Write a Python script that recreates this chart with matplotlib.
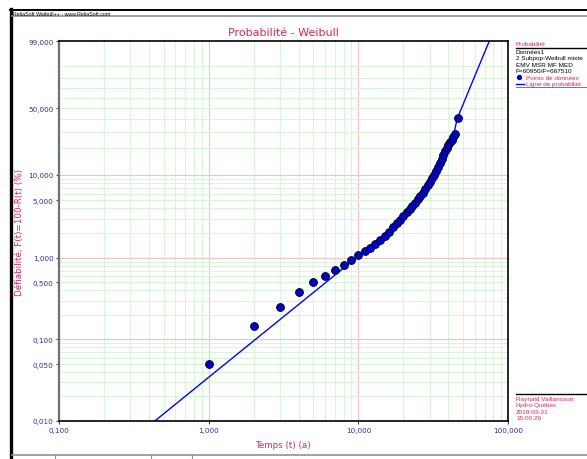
import numpy as np
import matplotlib
matplotlib.use("Agg")
import matplotlib.pyplot as plt
from matplotlib.lines import Line2D

W, H = 587, 460

# ── données ──────────────────────────────────────────────────────────────────
temps = [1, 2, 3, 4, 5, 6, 7, 8, 9, 10, 11, 12, 13, 14, 15, 16, 17, 18, 19, 20,
         21, 22, 23, 24, 25, 26, 27, 28, 29, 30, 31, 32, 33, 34, 35, 36, 37, 38,
         39, 40, 41, 42, 43, 44, 46]
defiab = [0.050, 0.147, 0.253, 0.383, 0.504, 0.60, 0.71, 0.82, 0.93, 1.08,
          1.20, 1.33, 1.48, 1.66, 1.85, 2.09, 2.36, 2.64, 2.91, 3.23,
          3.56, 3.92, 4.29, 4.65, 5.16, 5.66, 6.15, 6.85, 7.52, 8.22,
          9.04, 9.93, 10.95, 12.2, 13.7, 15.2, 16.8, 18.5, 20.2, 21.8,
          23.1, 24.3, 26.5, 28.5, 40.7]

# ligne de probabilité (mélange 2 sous-populations), points lus
ligne_t = [0.4365, 1.0, 3.0, 10.0, 15.0, 20.0, 25.0, 30.0, 35.0, 40.0, 43.0,
           44.0, 46.0, 47.14, 52.5, 59.34, 67.1, 75.05]
ligne_F = [0.010, 0.0344, 0.176, 1.05, 1.85, 3.2, 5.1, 8.2, 13.6, 20.2, 26.5,
           31.0, 41.5, 44.3, 61.1, 80.4, 94.0, 99.0]

y_ticks = [0.01, 0.05, 0.1, 0.5, 1, 5, 10, 50, 99]
y_tick_labels = ["0,010", "0,050", "0,100", "0,500", "1,000", "5,000",
                 "10,000", "50,000", "99,000"]
x_ticks = [0.1, 1, 10, 100]
x_tick_labels = ["0,100", "1,000", "10,000", "100,000"]

legende = ["Données1", "2 Subpop-Weibull mixte", "EMV MSR MF MED",
           "F=60950/F=667510"]
auteur = ["Raynald Vaillancourt", "Hydro-Québec", "2019-03-21", "15:00:26"]

ROUGE = "#E0245A"
MARINE = "#30309A"
VERT = "#D6F5D6"
ROSE = "#F7C0C0"
PETIT = ["Liberation Sans", "DejaVu Sans"]


def fwd(p):
    p = np.clip(np.asarray(p, float), 1e-6, 99.9999)
    return np.log(-np.log(1 - p / 100.0))


def inv(w):
    return 100.0 * (1 - np.exp(-np.exp(np.asarray(w, float))))


def px(x, y):
    return x / W, 1 - y / H


def hline(x0, x1, y, **kw):
    fig.add_artist(Line2D([x0 / W, x1 / W], [1 - y / H] * 2,
                          transform=fig.transFigure, **kw))


fig = plt.figure(figsize=(W / 100, H / 100), dpi=100)
fig.patch.set_facecolor("white")

# cadre de la fenêtre
fig.add_artist(Line2D([11 / W, 11 / W], [0, 1 - 10 / H], color="black", lw=2.4,
                      transform=fig.transFigure))
hline(10, W, 10.5, color="black", lw=1.4)
hline(12, W, 17, color="#909090", lw=1.2)
hline(12, W, 455.5, color="#909090", lw=1.2)
for xs in [55, 151, 192]:
    fig.add_artist(Line2D([xs / W] * 2, [1 - 456 / H, 1 - 460 / H],
                          color="#909090", lw=0.8, transform=fig.transFigure))
fig.text(*px(13, 14), "ReliaSoft Weibull++ - www.ReliaSoft.com", fontsize=3.8,
         family=PETIT, color="black", va="center", ha="left")

# ── axes ─────────────────────────────────────────────────────────────────────
l, r, t, b = 59, 508, 42, 422
ax = fig.add_axes([l / W, 1 - b / H, (r - l) / W, (b - t) / H])
ax.set_xscale("log")
ax.set_yscale("function", functions=(fwd, inv))
ax.set_xlim(0.1, 100)
ax.set_ylim(0.01, 99)

# grille
for dec in [0.1, 1, 10]:
    for m in range(2, 10):
        ax.axvline(dec * m, color=VERT, lw=0.7, zorder=0)
for xv in [1, 10]:
    ax.axvline(xv, color=ROSE, lw=0.8, zorder=0)
for dec in [0.01, 0.1, 1]:
    for m in range(2, 10):
        ax.axhline(dec * m, color=VERT, lw=0.7, zorder=0)
for m in range(2, 10):
    ax.axhline(10 * m, color=VERT, lw=0.7, zorder=0)
for yv in [0.1, 1, 10]:
    ax.axhline(yv, color=ROSE, lw=0.8, zorder=0)

ax.plot(ligne_t, ligne_F, color="#0000FF", lw=1.0, zorder=2)
ax.plot(temps, defiab, "o", ms=5.6, mfc="#0000CC", mec="#000033", mew=0.7,
        zorder=3, clip_on=False)

ax.set_yticks(y_ticks)
ax.set_yticklabels(y_tick_labels)
ax.set_xticks(x_ticks)
ax.set_xticklabels(x_tick_labels)
ax.yaxis.set_minor_locator(matplotlib.ticker.NullLocator())
ax.xaxis.set_minor_locator(matplotlib.ticker.NullLocator())
ax.tick_params(axis="both", labelsize=5.2, labelcolor=MARINE, colors="#404040",
               length=2.5, width=0.8, pad=1.5)

for side in ["top", "right", "bottom"]:
    ax.spines[side].set_color("black")
    ax.spines[side].set_linewidth(1.2)
ax.spines["left"].set_color("#707070")
ax.spines["left"].set_linewidth(1.6)

fig.text(*px(283, 33), "Probabilité - Weibull", fontsize=8, color=ROUGE,
         ha="center", va="center")
fig.text(*px(283, 446), "Temps (t) (a)", fontsize=6.3, color=ROUGE,
         ha="center", va="center")
fig.text(*px(20, 232), "Défiabilité, F(t)=100-R(t) (%)", fontsize=6.3,
         color=ROUGE, ha="center", va="center", rotation=90)

# ── panneau légende ──────────────────────────────────────────────────────────
fs = 4.6
fig.text(*px(516, 44.5), "Probabilité", fontsize=fs, family=PETIT, color=ROUGE,
         va="center")
hline(516, W, 48.5, color="black", lw=1.0)
for i, s in enumerate(legende):
    fig.text(*px(516, 52.5 + 6.4 * i), s, fontsize=fs, family=PETIT,
             color="black", va="center")
fig.add_artist(Line2D([519 / W], [1 - 78 / H], marker="o", ms=3.4,
                      mfc="#0000CC", mec="black", mew=0.4,
                      transform=fig.transFigure))
fig.text(*px(526, 78), "Points de données", fontsize=fs, family=PETIT,
         color=ROUGE, va="center")
hline(516, 524, 84.5, color="#0000FF", lw=1.0)
fig.text(*px(526, 84.5), "Ligne de probabilité", fontsize=fs, family=PETIT,
         color=ROUGE, va="center")
hline(516, W, 87.8, color=ROUGE, lw=0.6)

hline(516, W, 394.5, color="black", lw=1.0)
for i, s in enumerate(auteur):
    fig.text(*px(516, 399.5 + 6.4 * i), s, fontsize=fs, family=PETIT,
             color=ROUGE, va="center")

fig.savefig("out.png", dpi=100, facecolor="white")
